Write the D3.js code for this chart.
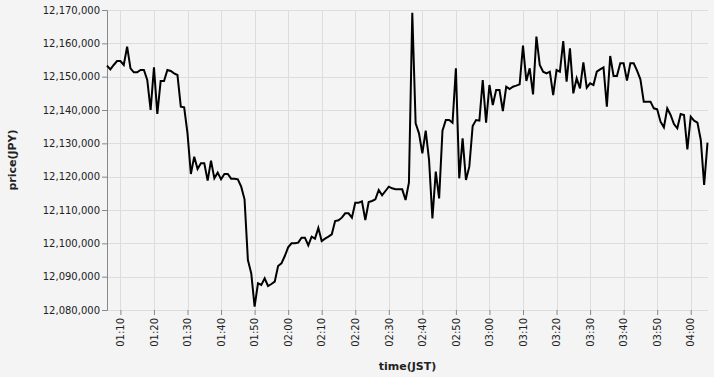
<!DOCTYPE html>
<html>
<head>
<meta charset="utf-8">
<script src="https://cdn.jsdelivr.net/npm/d3@7"></script>
<style>
  body { margin: 0; background: #f4f4f4; }
  svg { display: block; background: #f4f4f4; }
  .grid line { stroke: #dddddd; stroke-width: 1; }
  .axis text { font-family: "DejaVu Sans", sans-serif; font-size: 10px; fill: #222; }
  .axis line, .axis path { stroke: #888; }
  .title { font-family: "DejaVu Sans", sans-serif; font-size: 11px; font-weight: bold; fill: #222; }
</style>
</head>
<body>
<script>
// 1-minute prices, 01:06 .. 04:05 (JST)
var timeArray = [
  "01:06","01:07","01:08","01:09","01:10","01:11","01:12","01:13","01:14","01:15",
  "01:16","01:17","01:18","01:19","01:20","01:21","01:22","01:23","01:24","01:25",
  "01:26","01:27","01:28","01:29","01:30","01:31","01:32","01:33","01:34","01:35",
  "01:36","01:37","01:38","01:39","01:40","01:41","01:42","01:43","01:44","01:45",
  "01:46","01:47","01:48","01:49","01:50","01:51","01:52","01:53","01:54","01:55",
  "01:56","01:57","01:58","01:59","02:00","02:01","02:02","02:03","02:04","02:05",
  "02:06","02:07","02:08","02:09","02:10","02:11","02:12","02:13","02:14","02:15",
  "02:16","02:17","02:18","02:19","02:20","02:21","02:22","02:23","02:24","02:25",
  "02:26","02:27","02:28","02:29","02:30","02:31","02:32","02:33","02:34","02:35",
  "02:36","02:37","02:38","02:39","02:40","02:41","02:42","02:43","02:44","02:45",
  "02:46","02:47","02:48","02:49","02:50","02:51","02:52","02:53","02:54","02:55",
  "02:56","02:57","02:58","02:59","03:00","03:01","03:02","03:03","03:04","03:05",
  "03:06","03:07","03:08","03:09","03:10","03:11","03:12","03:13","03:14","03:15",
  "03:16","03:17","03:18","03:19","03:20","03:21","03:22","03:23","03:24","03:25",
  "03:26","03:27","03:28","03:29","03:30","03:31","03:32","03:33","03:34","03:35",
  "03:36","03:37","03:38","03:39","03:40","03:41","03:42","03:43","03:44","03:45",
  "03:46","03:47","03:48","03:49","03:50","03:51","03:52","03:53","03:54","03:55",
  "03:56","03:57","03:58","03:59","04:00","04:01","04:02","04:03","04:04","04:05"
];
var priceArray = [
  12153300,12152200,12153500,12154700,12154700,12153500,12159000,12152500,12151300,12151300,
  12152000,12152000,12149000,12140000,12152800,12138800,12148700,12148700,12152000,12151700,
  12151000,12150500,12141000,12140800,12133000,12120800,12126000,12122300,12124000,12124000,
  12118800,12124800,12119500,12121200,12119200,12120800,12120800,12119400,12119400,12119200,
  12117000,12113200,12095000,12091000,12081000,12088000,12087500,12089500,12087200,12087800,
  12088500,12093200,12094000,12096200,12098800,12100000,12100000,12100200,12101700,12101700,
  12099400,12102000,12101400,12104600,12100700,12101400,12102000,12102700,12106700,12106900,
  12107700,12109000,12109000,12107700,12112200,12112200,12112600,12107000,12112400,12112700,
  12113200,12116000,12114400,12115700,12117000,12116500,12116200,12116200,12116200,12113000,
  12118200,12169200,12136000,12133000,12127000,12133800,12125000,12107500,12121500,12113500,
  12133800,12137000,12137000,12136200,12152500,12119500,12131500,12119000,12123000,12135200,
  12137000,12136800,12149000,12136200,12147500,12141500,12146000,12146000,12139700,12147000,
  12146300,12147000,12147300,12147700,12159300,12148700,12152500,12144700,12162000,12153500,
  12151500,12151000,12151500,12144500,12152000,12151500,12160700,12148500,12158500,12145000,
  12149500,12146500,12154300,12146700,12148000,12147500,12151500,12152200,12152800,12141000,
  12156200,12150200,12150200,12154000,12154000,12148800,12154000,12154000,12151800,12149200,
  12142500,12142500,12142500,12140500,12140200,12136500,12134800,12140500,12138500,12135800,
  12134500,12138800,12138500,12128200,12138000,12136800,12136200,12131000,12117500,12130200
];
var yTicks = [12080000,12090000,12100000,12110000,12120000,12130000,12140000,12150000,12160000,12170000];

var margin = {left:107, top:10};
var width = 601;
var height = 300;

var parseTime = d3.timeParse("%H:%M");
var data = timeArray.map(function(t, i){ return {t: parseTime(t), v: priceArray[i]}; });

var x = d3.scaleTime()
    .domain(d3.extent(data, function(d){ return d.t; }))
    .range([0, width - 0.5]);

var y = d3.scaleLinear()
    .domain([d3.min(yTicks), d3.max(yTicks)])
    .range([height, 0]);

var svg = d3.select("body").append("svg").attr("width", 714).attr("height", 377);
var chartGroup = svg.append("g").attr("transform", "translate(" + margin.left + "," + margin.top + ")");

var xTicks = x.ticks(d3.timeMinute.every(10));

// grid
var grid = chartGroup.append("g").attr("class", "grid");
grid.selectAll("line.h").data(yTicks).enter().append("line")
    .attr("x1", 0).attr("x2", width)
    .attr("y1", function(d){ return Math.round(y(d)) + 0.5; })
    .attr("y2", function(d){ return Math.round(y(d)) + 0.5; });
grid.selectAll("line.v").data(xTicks).enter().append("line")
    .attr("y1", 0).attr("y2", height)
    .attr("x1", function(d){ return Math.round(x(d)) + 0.5; })
    .attr("x2", function(d){ return Math.round(x(d)) + 0.5; });

// y axis
var yAxis = d3.axisLeft(y).tickValues(yTicks).tickSize(5).tickPadding(2).tickFormat(d3.format(","));
chartGroup.append("g").attr("class", "axis y").call(yAxis);

// x axis
var xAxis = d3.axisBottom(x).tickValues(xTicks).tickSize(5).tickFormat(d3.timeFormat("%H:%M"));
var gx = chartGroup.append("g").attr("class", "axis x")
    .attr("transform", "translate(0," + height + ")")
    .call(xAxis);
gx.select(".domain").remove();
gx.selectAll("text")
    .attr("transform", "rotate(-90)")
    .attr("x", -8).attr("y", 0).attr("dy", "0.32em")
    .style("text-anchor", "end");

// line
var line = d3.line()
    .x(function(d){ return x(d.t); })
    .y(function(d){ return y(d.v); });
chartGroup.append("path")
    .datum(data)
    .attr("fill", "none")
    .attr("stroke", "#000")
    .attr("stroke-width", 2)
    .attr("stroke-linejoin", "miter")
    .attr("d", line);

// titles
svg.append("text").attr("class", "title")
    .attr("x", margin.left + width / 2).attr("y", 370)
    .attr("text-anchor", "middle")
    .text("time(JST)");
svg.append("text").attr("class", "title")
    .attr("transform", "translate(16," + (margin.top + height / 2) + ") rotate(-90)")
    .attr("text-anchor", "middle")
    .text("price(JPY)");
</script>
</body>
</html>
